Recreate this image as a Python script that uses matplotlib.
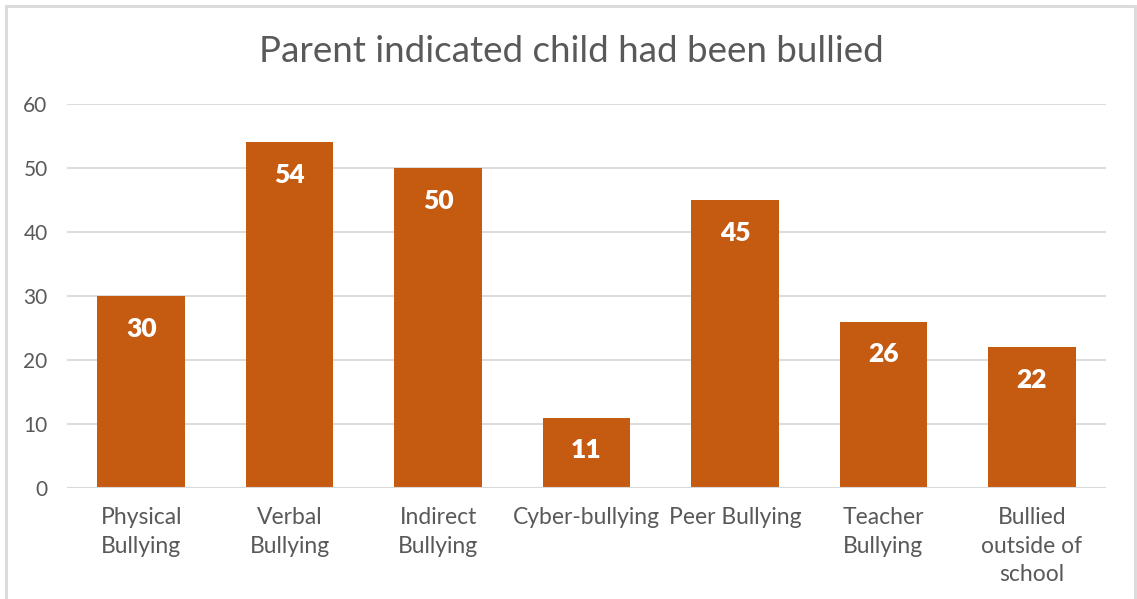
import matplotlib.pyplot as plt
from matplotlib.patches import Rectangle

categories = ["Physical\nBullying", "Verbal\nBullying", "Indirect\nBullying",
              "Cyber-bullying", "Peer Bullying", "Teacher\nBullying",
              "Bullied\noutside of\nschool"]
values = [30, 54, 50, 11, 45, 26, 22]
y_ticks = [0, 10, 20, 30, 40, 50, 60]
title = "Parent indicated child had been bullied"

W, H = 1137, 599
fig = plt.figure(figsize=(W / 100, H / 100), dpi=100)
plt.rcParams['font.family'] = ['Lato', 'DejaVu Sans']

# chart frame
fig.patches.append(Rectangle((6 / W, -0.05), (1135 - 6) / W, 1.05 - 6 / H,
                             transform=fig.transFigure, fill=False,
                             edgecolor='#D9D9D9', linewidth=2))

ax = fig.add_axes([67 / W, 1 - 488 / H, (1106 - 67) / W, (488 - 104) / H])
x = list(range(len(categories)))
bars = ax.bar(x, values, width=0.59, color='#C55A11', zorder=3)
ax.set_xlim(-0.5, len(categories) - 0.5)
ax.set_ylim(0, 60)
ax.set_yticks(y_ticks)
ax.set_yticklabels([str(t) for t in y_ticks])
ax.set_xticks(x)
ax.set_xticklabels(categories, linespacing=1.42)
ax.tick_params(axis='y', length=0, labelsize=15, labelcolor='#595959', pad=14)
ax.tick_params(axis='x', length=0, labelsize=16.5, labelcolor='#595959', pad=14)
ax.grid(axis='y', color='#D9D9D9', linewidth=1.3, zorder=0)
for s in ax.spines.values():
    s.set_visible(False)
ax.axhline(0, color='#D9D9D9', linewidth=1.5, zorder=4)

for rect, v in zip(bars, values):
    ax.text(rect.get_x() + rect.get_width() / 2, v - 5.1, str(v),
            ha='center', va='center', color='white', fontsize=19,
            fontweight='heavy', zorder=5)

fig.text(571 / W, 1 - 51 / H, title, ha='center', va='center',
         fontsize=26.5, color='#595959')

fig.savefig('out.png', dpi=100, facecolor='white')
